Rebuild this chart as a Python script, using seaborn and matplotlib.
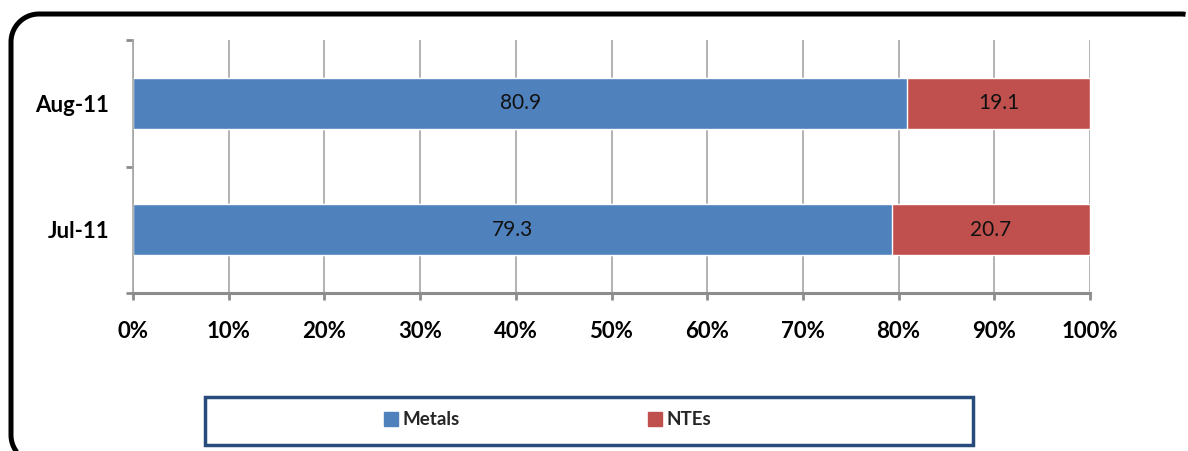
import numpy as np
import pandas as pd
import matplotlib.pyplot as plt
import seaborn as sns
from matplotlib.patches import Rectangle, Patch
from matplotlib.lines import Line2D
from matplotlib.transforms import IdentityTransform

months = ["Aug-11", "Jul-11"]
metals = [80.9, 79.3]
ntes = [19.1, 20.7]
pct_ticks = [0, 10, 20, 30, 40, 50, 60, 70, 80, 90, 100]
series_names = ["Metals", "NTEs"]

blue = "#4F81BD"
red = "#C0504D"
grid_col = "#A6A6A6"
axis_col = "#8C8C8C"

sns.set_style("white")
plt.rcParams["font.family"] = ["Lato", "DejaVu Sans"]

df = pd.DataFrame({"month": months, "Metals": metals, "NTEs": ntes})
df["total"] = df["Metals"] + df["NTEs"]

fig = plt.figure(figsize=(11.88, 4.51), dpi=100)
ax = fig.add_axes([133 / 1188, 1 - 293 / 451, 957 / 1188, 253 / 451])
ax.set_axisbelow(True)

#stacked bars: full total in red, metals over it in blue
sns.barplot(data=df, y="month", x="total", order=months, color=red,
            saturation=1, width=0.4, ax=ax)
sns.barplot(data=df, y="month", x="Metals", order=months, color=blue,
            saturation=1, width=0.4, ax=ax)

#data labels
for i, (m, n) in enumerate(zip(metals, ntes)):
    ax.text(m / 2, i, f"{m:.1f}", ha="center", va="center", fontsize=15, color="#111111")
    ax.text(m + n / 2, i, f"{n:.1f}", ha="center", va="center", fontsize=15, color="#111111")

ax.set_xlim(0, 100)
ax.set_ylim(1.5, -0.5)
ax.set_xticks(pct_ticks)
ax.set_xticklabels([f"{v}%" for v in pct_ticks])
ax.set_yticks([-0.5, 0.5, 1.5], minor=True)
ax.set_xlabel("")
ax.set_ylabel("")

ax.xaxis.grid(True, color=grid_col, linewidth=1.2)
ax.yaxis.grid(False)
ax.spines["top"].set_visible(False)
ax.spines["right"].set_visible(False)
ax.spines["left"].set_color(grid_col)
ax.spines["left"].set_linewidth(1.2)
ax.spines["bottom"].set_color(axis_col)
ax.spines["bottom"].set_linewidth(2.2)

ax.tick_params(axis="x", which="major", bottom=True, length=5, width=2,
               color=axis_col, pad=15, labelsize=16, labelcolor="black")
ax.tick_params(axis="y", which="major", left=False, length=0, pad=17,
               labelsize=16, labelcolor="black")
ax.tick_params(axis="y", which="minor", left=True, length=5, width=2, color=axis_col)
for lab in ax.get_xticklabels() + ax.get_yticklabels():
    lab.set_fontweight("bold")

#legend
handles = [Patch(color=blue), Patch(color=red)]
fig.legend(handles, series_names, loc="center", bbox_to_anchor=(0.461, 0.069),
           ncol=2, frameon=False, prop={"size": 13.5, "weight": "bold"},
           handlelength=0.75, handleheight=0.75, handletextpad=0.25, columnspacing=10)
fig.add_artist(Rectangle((205 / 1188, 1 - 445 / 451), 768 / 1188, 48 / 451,
                         transform=fig.transFigure, fill=False,
                         edgecolor="#274B7D", linewidth=2.5))

#outer rounded frame (pixel coords, right and bottom edges run off the canvas)
r = 28
left, top, bottom = 11, 437, -12
def arc(cx, cy, a0, a1):
    t = np.radians(np.linspace(a0, a1, 30))
    return cx + r * np.cos(t), cy + r * np.sin(t)
segs = [arc(left + r, bottom + r, 270, 180), arc(left + r, top - r, 180, 90),
        arc(1181, top - r, 90, 0)]
fx = np.concatenate([s[0] for s in segs])
fy = np.concatenate([s[1] for s in segs])
keep = (fx <= 1187) & (fy >= -2)
fig.add_artist(Line2D(fx[keep], fy[keep], transform=IdentityTransform(),
                      color="black", linewidth=3.6, solid_joinstyle="round",
                      solid_capstyle="butt"))

fig.savefig("out.png", dpi=100)
